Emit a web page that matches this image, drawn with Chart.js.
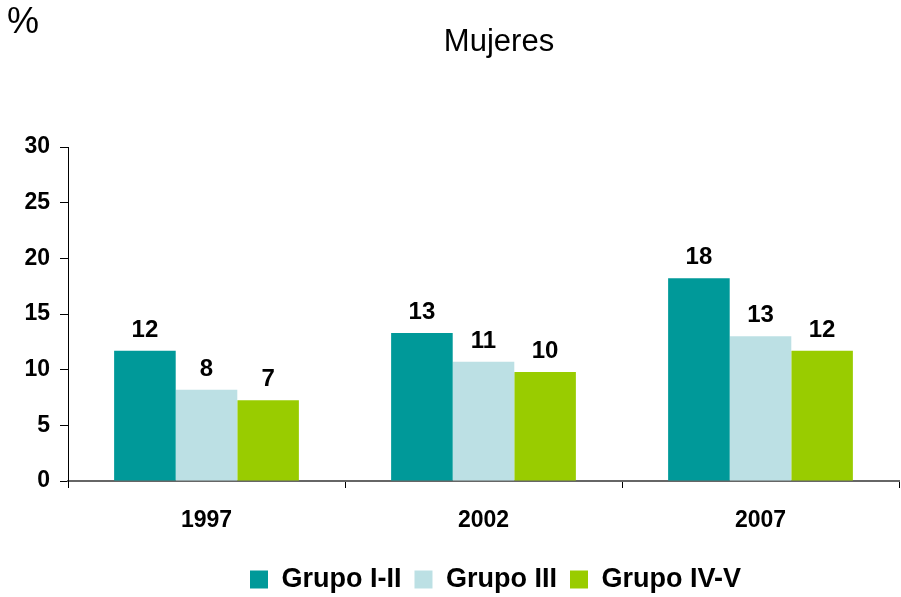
<!DOCTYPE html>
<html>
<head>
<meta charset="utf-8">
<script src="https://cdn.jsdelivr.net/npm/chart.js@4"></script>
<style>
  html, body { margin: 0; padding: 0; background: #ffffff; }
  canvas { display: block; }
</style>
</head>
<body>
<canvas id="chart" width="901" height="597"></canvas>
<script>
// Years on the category axis
const categories = ['1997', '2002', '2007'];

// Percentages per social class group (women)
const grupoI_II = [11.7, 13.3, 18.2];
const grupoIII = [8.2, 10.7, 13.0];
const grupoIV_V = [7.25, 9.8, 11.7];

const seriesNames = ['Grupo I-II', 'Grupo III', 'Grupo IV-V'];
const yTicks = [0, 5, 10, 15, 20, 25, 30];

const chartTitle = 'Mujeres';
const unitLabel = '%';

const FONT = 'Arial, "Liberation Sans", Helvetica, sans-serif';

// Values printed above each bar, rounded to whole percentages
const valueLabels = {
  id: 'valueLabels',
  afterDatasetsDraw(chart) {
    const ctx = chart.ctx;
    ctx.save();
    ctx.font = 'bold 24px ' + FONT;
    ctx.fillStyle = '#000000';
    ctx.textAlign = 'center';
    ctx.textBaseline = 'alphabetic';
    chart.data.datasets.forEach((ds, i) => {
      const meta = chart.getDatasetMeta(i);
      meta.data.forEach((bar, j) => {
        ctx.fillText(String(Math.round(ds.data[j])), bar.x, bar.y - 14);
      });
    });
    ctx.restore();
  }
};

// Unit mark and title at the top of the figure
const headerText = {
  id: 'headerText',
  afterDraw(chart) {
    const ctx = chart.ctx;
    ctx.save();
    ctx.fillStyle = '#000000';
    ctx.textBaseline = 'alphabetic';
    ctx.textAlign = 'left';
    ctx.font = '36px ' + FONT;
    ctx.fillText(unitLabel, 7, 33);
    ctx.textAlign = 'center';
    ctx.font = '31px ' + FONT;
    ctx.fillText(chartTitle, 499, 51);
    ctx.restore();
  }
};

// Place the legend centred under the plot
const legendPlacement = {
  id: 'legendPlacement',
  afterLayout(chart) {
    const lg = chart.legend;
    if (!lg) return;
    const dx = 46;
    const dy = 6;
    lg.left += dx; lg.right += dx;
    lg.top += dy; lg.bottom += dy;
  }
};

new Chart(document.getElementById('chart'), {
  type: 'bar',
  data: {
    labels: categories,
    datasets: [
      { label: seriesNames[0], data: grupoI_II, backgroundColor: '#009999' },
      { label: seriesNames[1], data: grupoIII, backgroundColor: '#bce0e4' },
      { label: seriesNames[2], data: grupoIV_V, backgroundColor: '#99cc00' }
    ]
  },
  options: {
    responsive: false,
    animation: false,
    devicePixelRatio: 1,
    layout: { padding: { top: 147, right: 2, left: 0, bottom: 0 } },
    datasets: {
      bar: { categoryPercentage: 0.667, barPercentage: 1.0, borderWidth: 0 }
    },
    plugins: {
      title: { display: false },
      tooltip: { enabled: false },
      legend: {
        display: true,
        position: 'bottom',
        labels: {
          boxWidth: 18,
          boxHeight: 18,
          padding: 13,
          color: '#000000',
          font: { family: FONT, size: 27, weight: 'bold' }
        }
      }
    },
    scales: {
      x: {
        grid: {
          display: true,
          offset: true,
          drawOnChartArea: false,
          drawTicks: true,
          tickLength: 7,
          color: '#000000'
        },
        border: { display: true, color: '#666666', width: 2 },
        ticks: {
          color: '#000000',
          padding: 19,
          font: { family: FONT, size: 23, weight: 'bold' }
        },
        afterFit(scale) { scale.height = 66; }
      },
      y: {
        min: 0,
        max: 30,
        afterBuildTicks(scale) { scale.ticks = yTicks.map(v => ({ value: v })); },
        grid: {
          display: true,
          drawOnChartArea: false,
          drawTicks: true,
          tickLength: 8,
          color: '#000000'
        },
        border: { display: true, color: '#000000', width: 1 },
        ticks: {
          color: '#000000',
          padding: 10,
          font: { family: FONT, size: 23, weight: 'bold' }
        },
        afterFit(scale) { scale.width = 68; }
      }
    }
  },
  plugins: [valueLabels, headerText, legendPlacement]
});
</script>
</body>
</html>
